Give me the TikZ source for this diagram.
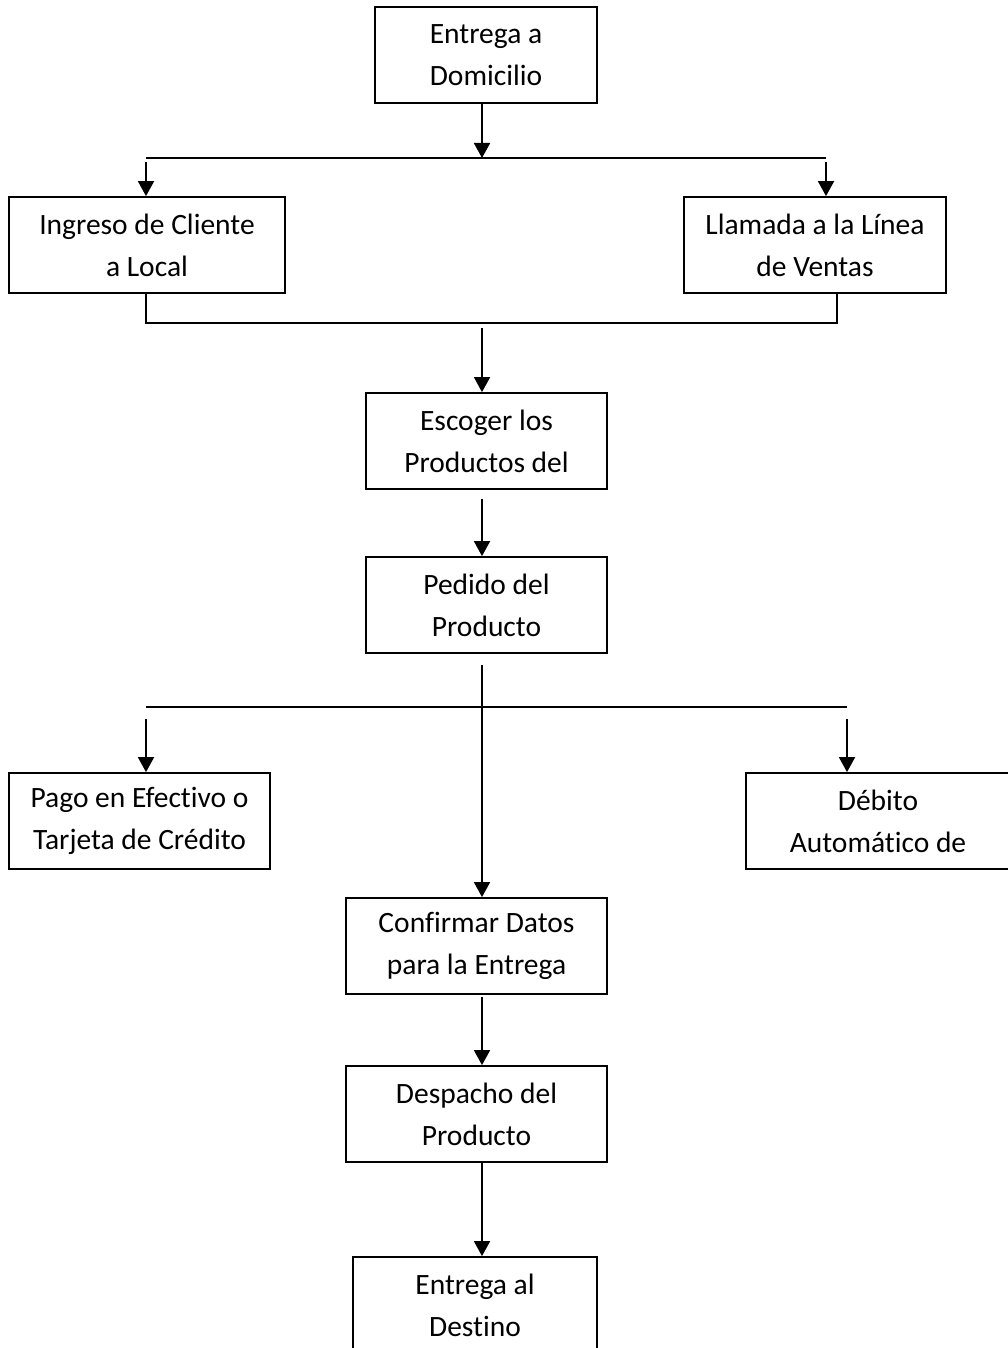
\documentclass[tikz,border=0pt]{standalone}
\usepackage{fontspec}
\setmainfont{Carlito}[Ligatures={NoCommon,NoContextual}]
\usetikzlibrary{arrows.meta}
\tikzset{
  stepbox/.style={draw, line width=1.8pt, minimum height=96pt, inner sep=0pt,
    align=center, font=\fontsize{29.5}{42}\selectfont},
  link/.style={line width=1.8pt},
  flow/.style={line width=1.8pt, -{Triangle[width=16pt,length=15pt]}}
}
\begin{document}
\begin{tikzpicture}[x=1pt, y=-1pt]
\useasboundingbox (0,0) rectangle (1008,1348);
\clip (0,0) rectangle (1008,1348);

% process boxes
\node[stepbox, minimum width=222pt] (e1)   at (486,55)    {Entrega a\\Domicilio};
\node[stepbox, minimum width=276pt] (ing)  at (147,245)   {Ingreso de Cliente\\a Local};
\node[stepbox, minimum width=262pt] (lla)  at (815,245)   {Llamada a la Línea\\de Ventas};
\node[stepbox, minimum width=241pt] (esc)  at (486.5,441) {Escoger los\\Productos del};
\node[stepbox, minimum width=241pt] (ped)  at (486.5,605) {Pedido del\\Producto};
\node[stepbox, minimum width=261pt] (pago) at (139.5,821) {Pago en Efectivo o\\Tarjeta de Crédito};
\node[stepbox, minimum width=264pt] (deb)  at (878,821)   {Débito\\Automático de};
\node[stepbox, minimum width=261pt] (conf) at (476.5,946) {Confirmar Datos\\para la Entrega};
\node[stepbox, minimum width=261pt] (desp) at (476.5,1114){Despacho del\\Producto};
\node[stepbox, minimum width=244pt] (dest) at (475,1305)  {Entrega al\\Destino};

% junction points of the branching lines
\coordinate (j1)  at (482,158);
\coordinate (j1l) at (146,158);
\coordinate (j1r) at (826,158);
\coordinate (j2)  at (482,323);
\coordinate (j2l) at (146,323);
\coordinate (j2r) at (837,323);
\coordinate (j3)  at (482,707);
\coordinate (j3l) at (146,707);
\coordinate (j3r) at (847,707);

% first split
\draw[flow] (j1 |- e1.south) -- (j1);
\draw[link] (j1l) -- (j1r);
\draw[flow] ([yshift=-4pt]j1l) -- (j1l |- ing.north);
\draw[flow] ([yshift=-4pt]j1r) -- (j1r |- lla.north);

% merge
\draw[link] (j2l |- ing.south) -- (j2l) -- (j2r) -- (j2r |- lla.south);
\draw[flow] ([yshift=-5pt]j2) -- (j2 |- esc.north);
\draw[flow] ([yshift=-9pt]j2 |- esc.south) -- (j2 |- ped.north);

% payment split
\draw[link] (j3l) -- (j3r);
\draw[flow] ([yshift=-11pt]j3 |- ped.south) -- (j3 |- conf.north);
\draw[flow] ([yshift=-12pt]j3l) -- (j3l |- pago.north);
\draw[flow] ([yshift=-12pt]j3r) -- (j3r |- deb.north);

% delivery
\draw[flow] ([yshift=-2pt]j3 |- conf.south) -- (j3 |- desp.north);
\draw[flow] (j3 |- desp.south) -- (j3 |- dest.north);
\end{tikzpicture}
\end{document}
